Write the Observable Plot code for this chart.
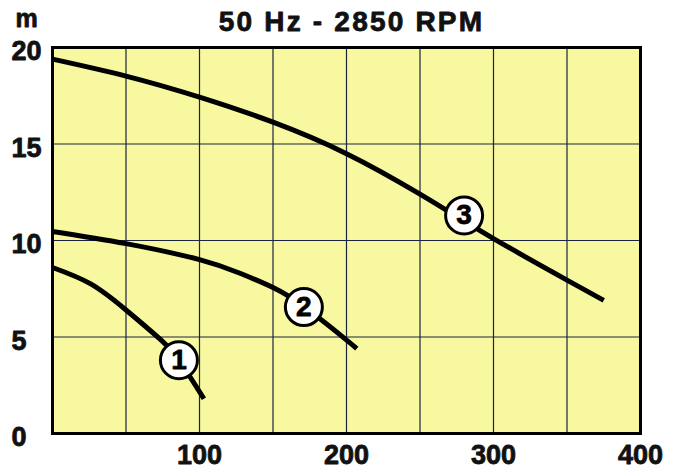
<!DOCTYPE html>
<html>
<head>
<meta charset="utf-8">
<script src="https://cdn.jsdelivr.net/npm/d3@7"></script>
<script src="https://cdn.jsdelivr.net/npm/@observablehq/plot@0.6"></script>
<style>
  html, body { margin: 0; padding: 0; background: #ffffff; }
  #chart svg { display: block; }
</style>
</head>
<body>
<div id="chart"></div>
<script>
// ---- data ----
const titleText = "50 Hz - 2850 RPM";
const yUnit = "m";
const xTicks = [100, 200, 300, 400];
const yTicks = [0, 5, 10, 15, 20];
const xGrid = [50, 100, 150, 200, 250, 300, 350];
const yGrid = [5, 10, 15];

const curve1Q = [0, 26, 50, 73, 86, 103];
const curve1H = [8.6, 7.75, 6.4, 4.9, 3.8, 1.8];

const curve2Q = [0, 50, 100, 128, 150, 171, 198, 207];
const curve2H = [10.47, 9.84, 9.01, 8.29, 7.56, 6.58, 4.97, 4.4];

const curve3Q = [0, 50, 100, 150, 200, 250, 300, 350, 375];
const curve3H = [19.4, 18.52, 17.43, 16.13, 14.5, 12.4, 10.1, 7.95, 6.9];

const labelNames = ["1", "2", "3"];
const labelQ = [86, 171, 280];
const labelH = [3.8, 6.55, 11.3];

// ---- build tables ----
const toRows = (qs, hs, id) => qs.map((q, i) => ({q, h: hs[i], id}));
const curves = [
  ...toRows(curve1Q, curve1H, "1"),
  ...toRows(curve2Q, curve2H, "2"),
  ...toRows(curve3Q, curve3H, "3")
];
const labels = labelNames.map((n, i) => ({name: n, q: labelQ[i], h: labelH[i]}));

const font = "'Liberation Sans', Arial, Helvetica, sans-serif";
const ink = "#111";
const textStyle = {fontSize: 27, fontWeight: "bold", fill: ink, stroke: ink, strokeWidth: 0.8, lineAnchor: "middle"};

const chart = Plot.plot({
  width: 680,
  height: 470,
  marginLeft: 52,
  marginRight: 40,
  marginTop: 47,
  marginBottom: 37,
  style: {background: "#ffffff", fontFamily: font},
  x: {domain: [0, 400], axis: null},
  y: {domain: [0, 20], axis: null},
  marks: [
    Plot.frame({fill: "#f8f8a0", stroke: "none"}),
    Plot.ruleX(xGrid, {stroke: "#1b2440", strokeWidth: 1.2}),
    Plot.ruleY(yGrid, {stroke: "#1b2440", strokeWidth: 1.2}),
    Plot.line(curves, {x: "q", y: "h", z: "id", stroke: "#000", strokeWidth: 5, curve: "natural", strokeLinecap: "butt"}),
    Plot.frame({stroke: "#000", strokeWidth: 3}),
    Plot.dot(labels, {x: "q", y: "h", r: 18.5, fill: "#ffffff", stroke: "#000", strokeWidth: 3}),
    Plot.text(labels, {x: "q", y: "h", text: "name", ...textStyle, fontSize: 28, fill: "#000", stroke: "#000", dy: 0}),
    // x tick labels
    Plot.text(xTicks, {x: d => d, text: d => String(d), frameAnchor: "bottom", dy: 22, ...textStyle}),
    // y tick labels
    Plot.text(yTicks, {y: d => d, text: d => String(d), frameAnchor: "left", textAnchor: "start", dx: -41, dy: 4, ...textStyle}),
    // unit label
    Plot.text([yUnit], {text: d => d, frameAnchor: "top-left", textAnchor: "start", dx: -37, dy: -29, ...textStyle, fontSize: 25}),
    // title
    Plot.text([titleText], {text: d => d, frameAnchor: "top", dx: 5, dy: -25, ...textStyle, fontSize: 28})
  ]
});
d3.select(chart).selectAll("text")
  .filter(function() { return this.textContent === titleText; })
  .style("letter-spacing", "2.2px");
document.getElementById("chart").appendChild(chart);
</script>
</body>
</html>
